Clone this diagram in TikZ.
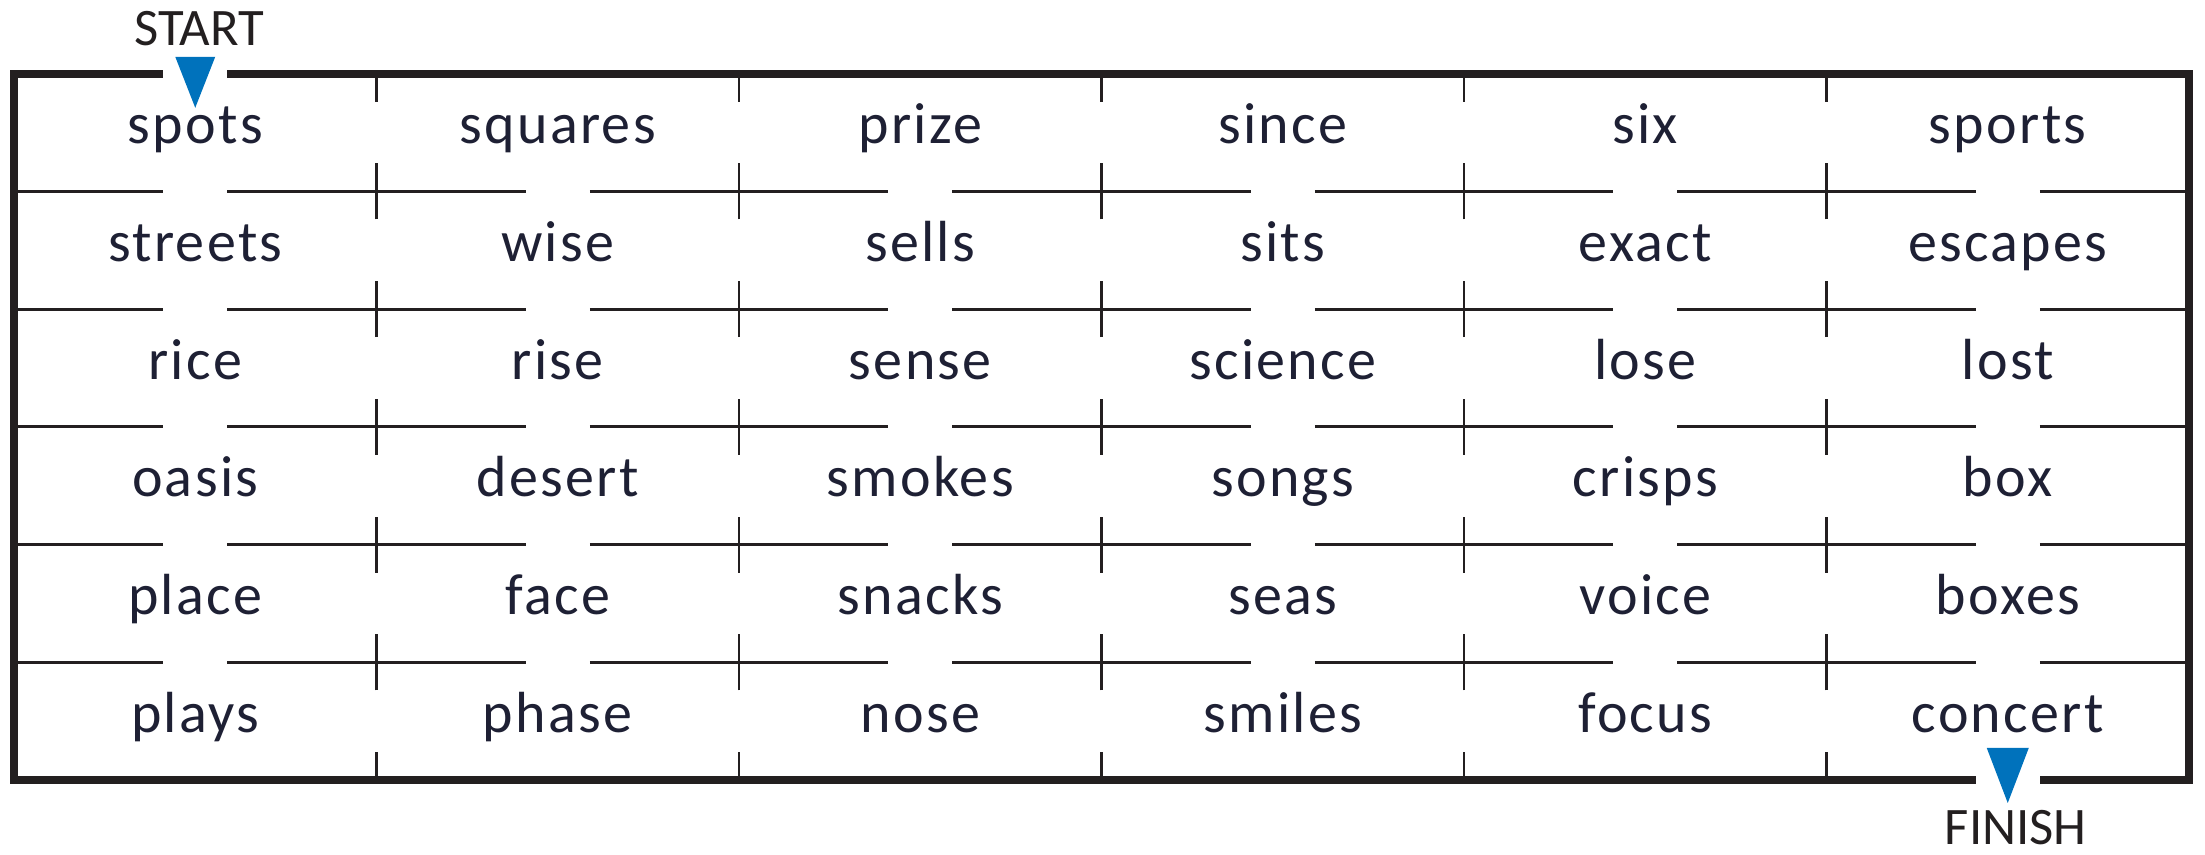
\documentclass[tikz,border=0pt]{standalone}
\usepackage{fontspec}
\setmainfont{Carlito}
\newfontfamily\wordfont[LetterSpace=4]{Carlito}
\usepackage{xcolor}
\usepackage{tikz}
\usetikzlibrary{calc}
\definecolor{mazeblue}{RGB}{0,114,188}
\definecolor{inkblack}{RGB}{35,31,32}
\definecolor{wordink}{RGB}{30,32,52}

\begin{document}
\begin{tikzpicture}[
      x=3.625cm, y=1.177cm,
      word/.style={text=wordink, font=\wordfont\fontsize{16.5}{19}\selectfont,
        inner sep=0pt, anchor=base, yshift=-0.11cm},
      endlabel/.style={text=inkblack, font=\fontsize{15}{18}\selectfont, inner sep=1pt},
      border/.style={draw=inkblack, line width=2.3pt, line join=miter},
      wall/.style={draw=inkblack, line width=0.85pt},
      tick/.style={draw=inkblack, line width=0.8pt},
      marker/.style={fill=mazeblue}
    ]
    \useasboundingbox (-0.14cm,-0.75cm) rectangle (21.91cm,7.80cm);
    \coordinate (start) at (0.5,6);
    \coordinate (finish) at (5.5,0);

    \foreach \y in {1,...,5} {
      \foreach \c in {0,...,5} {
        \draw[wall] (\c,\y) -- ([xshift=-0.32cm]\c+0.5,\y);
        \draw[wall] ([xshift=0.32cm]\c+0.5,\y) -- (\c+1,\y);
      }
      \foreach \x in {1,...,5}
        \draw[tick] ([yshift=-0.28cm]\x,\y) -- ([yshift=0.28cm]\x,\y);
    }
    \foreach \x in {1,...,5} {
      \draw[tick] (\x,6) -- ([yshift=-0.28cm]\x,6);
      \draw[tick] (\x,0) -- ([yshift=0.28cm]\x,0);
    }
    \draw[border] ([xshift=0.32cm]start) -- (6,6) -- (6,0) -- ([xshift=0.32cm]finish);
    \draw[border] ([xshift=-0.32cm]finish) -- (0,0) -- (0,6) -- ([xshift=-0.32cm]start);

    \fill[marker] ([shift={(-0.2cm,0.17cm)}]start) -- ([shift={(0.2cm,0.17cm)}]start)
      -- ([yshift=-0.34cm]start) -- cycle;
    \fill[marker] ([shift={(-0.21cm,0.32cm)}]finish) -- ([shift={(0.21cm,0.32cm)}]finish)
      -- ([yshift=-0.23cm]finish) -- cycle;
    \node[endlabel] (startlabel) at ([shift={(0.04cm,0.45cm)}]start) {START};
    \node[endlabel] (finishlabel) at ([shift={(0.08cm,-0.48cm)}]finish) {FINISH};

    \node[word] (spots) at (0.5,5.5) {spots};
    \node[word] (squares) at (1.5,5.5) {squares};
    \node[word] (prize) at (2.5,5.5) {prize};
    \node[word] (since) at (3.5,5.5) {since};
    \node[word] (six) at (4.5,5.5) {six};
    \node[word] (sports) at (5.5,5.5) {sports};

    \node[word] (streets) at (0.5,4.5) {streets};
    \node[word] (wise) at (1.5,4.5) {wise};
    \node[word] (sells) at (2.5,4.5) {sells};
    \node[word] (sits) at (3.5,4.5) {sits};
    \node[word] (exact) at (4.5,4.5) {exact};
    \node[word] (escapes) at (5.5,4.5) {escapes};

    \node[word] (rice) at (0.5,3.5) {rice};
    \node[word] (rise) at (1.5,3.5) {rise};
    \node[word] (sense) at (2.5,3.5) {sense};
    \node[word] (science) at (3.5,3.5) {science};
    \node[word] (lose) at (4.5,3.5) {lose};
    \node[word] (lost) at (5.5,3.5) {lost};

    \node[word] (oasis) at (0.5,2.5) {oasis};
    \node[word] (desert) at (1.5,2.5) {desert};
    \node[word] (smokes) at (2.5,2.5) {smokes};
    \node[word] (songs) at (3.5,2.5) {songs};
    \node[word] (crisps) at (4.5,2.5) {crisps};
    \node[word] (box) at (5.5,2.5) {box};

    \node[word] (place) at (0.5,1.5) {place};
    \node[word] (face) at (1.5,1.5) {face};
    \node[word] (snacks) at (2.5,1.5) {snacks};
    \node[word] (seas) at (3.5,1.5) {seas};
    \node[word] (voice) at (4.5,1.5) {voice};
    \node[word] (boxes) at (5.5,1.5) {boxes};

    \node[word] (plays) at (0.5,0.5) {plays};
    \node[word] (phase) at (1.5,0.5) {phase};
    \node[word] (nose) at (2.5,0.5) {nose};
    \node[word] (smiles) at (3.5,0.5) {smiles};
    \node[word] (focus) at (4.5,0.5) {focus};
    \node[word] (concert) at (5.5,0.5) {concert};
  \end{tikzpicture}
\end{document}
